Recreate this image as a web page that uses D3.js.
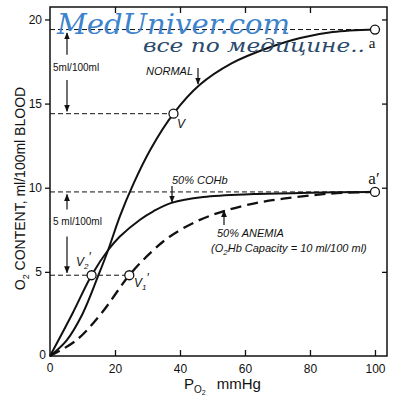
<!DOCTYPE html>
<html>
<head>
<meta charset="utf-8">
<script src="https://cdn.jsdelivr.net/npm/d3@7"></script>
<style>
  body { margin: 0; background: #fff; }
  text { fill: #111; }
  .sans { font-family: "Liberation Sans", Arial, sans-serif; }
  .it { font-family: "Liberation Sans", Arial, sans-serif; font-style: italic; }
  .serif { font-family: "Liberation Serif", "DejaVu Serif", serif; }
  .wm { font-family: "DejaVu Serif", "Liberation Serif", serif; font-style: italic; }
</style>
</head>
<body>
<script>
// curve readings (PO2 mmHg, O2 content ml/100ml)
const normalPO2 = [0, 5, 10, 14.9, 17.9, 21.5, 25.6, 31, 38, 46, 56, 67, 77, 87, 100];
const normalO2 = [0, 0.9, 2.5, 4.8, 6.3, 8.3, 10.2, 12.3, 14.4, 16.1, 17.4, 18.3, 18.9, 19.25, 19.4];
const cohbPO2 = [0, 7, 12.8, 17.9, 21.5, 27.7, 31.8, 37.4, 47.2, 62.6, 80, 100];
const cohbO2 = [0, 2.56, 4.8, 6.3, 7.1, 8.1, 8.6, 9.1, 9.45, 9.62, 9.7, 9.75];
const anemiaPO2 = [0, 8.2, 15.9, 24.4, 31.3, 36.9, 45.1, 53.3, 62.6, 71.8, 82, 90, 100];
const anemiaO2 = [0, 0.95, 2.56, 4.8, 6.2, 7.1, 8.0, 8.6, 9.06, 9.35, 9.58, 9.7, 9.75];

// marked points: a, V, a', V2', V1'
const pointPO2 = [100, 38, 100, 12.8, 24.4];
const pointO2 = [19.4, 14.4, 9.75, 4.8, 4.8];

const xTicks = [0, 20, 40, 60, 80, 100];
const yTicks = [0, 5, 10, 15, 20];

const x = d3.scaleLinear().domain([0, 103.7]).range([50, 387]);
const y = d3.scaleLinear().domain([0, 20.74]).range([356, 7]);

const svg = d3.select("body").append("svg")
  .attr("width", 397)
  .attr("height", 400);

svg.append("rect").attr("width", 397).attr("height", 400).attr("fill", "#fff");

// arrow marker
svg.append("defs").append("marker")
  .attr("id", "ah")
  .attr("viewBox", "0 0 10 10")
  .attr("refX", 9).attr("refY", 5)
  .attr("markerWidth", 6).attr("markerHeight", 6)
  .attr("orient", "auto")
  .append("path").attr("d", "M0,1 L10,5 L0,9 Z").attr("fill", "#111");

// frame
svg.append("rect")
  .attr("x", x(0)).attr("y", y(20.74))
  .attr("width", x(103.7) - x(0)).attr("height", y(0) - y(20.74))
  .attr("fill", "none").attr("stroke", "#111").attr("stroke-width", 1.5);

// axes
svg.append("g")
  .attr("transform", `translate(0,${y(0)})`)
  .call(d3.axisBottom(x).tickValues(xTicks.slice(1)).tickSize(-6).tickPadding(8).tickFormat(d3.format("d")))
  .call(g => g.select(".domain").remove());
svg.append("g")
  .attr("transform", `translate(0,${y(20.74)})`)
  .call(d3.axisTop(x).tickValues(xTicks.slice(1, 5)).tickSize(-6).tickFormat(""))
  .call(g => g.select(".domain").remove());
svg.append("g")
  .attr("transform", `translate(${x(0)},0)`)
  .call(d3.axisLeft(y).tickValues(yTicks.slice(1)).tickSize(5).tickPadding(3))
  .call(g => g.select(".domain").remove());
svg.append("g")
  .attr("transform", `translate(${x(103.7)},0)`)
  .call(d3.axisRight(y).tickValues(yTicks.slice(1)).tickSize(-5).tickFormat(""))
  .call(g => g.select(".domain").remove());
svg.selectAll(".tick line").attr("stroke", "#111").attr("stroke-width", 1.3);
svg.selectAll(".tick text").attr("class", "sans").attr("font-size", 12).attr("fill", "#222");

// zero labels
svg.append("text").attr("class", "sans").attr("x", x(0)).attr("y", y(0) + 16).attr("text-anchor", "middle").attr("font-size", 12).text(xTicks[0]);
svg.append("text").attr("class", "sans").attr("x", x(0) - 4).attr("y", y(0) + 3).attr("text-anchor", "end").attr("font-size", 12).text(yTicks[0]);

// axis titles
const yt = svg.append("text")
  .attr("class", "sans")
  .attr("transform", `translate(25,${y(9.95)}) rotate(-90)`)
  .attr("text-anchor", "middle")
  .attr("font-size", 14);
yt.append("tspan").text("O");
yt.append("tspan").attr("font-size", 9).attr("dy", 4).text("2");
yt.append("tspan").attr("dy", -4).text("  CONTENT, ml/100ml BLOOD");

const xt = svg.append("text")
  .attr("class", "sans")
  .attr("x", 184).attr("y", 389)
  .attr("font-size", 15);
xt.append("tspan").text("P");
xt.append("tspan").attr("font-size", 10).attr("dy", 4).text("O");
xt.append("tspan").attr("font-size", 7).attr("dy", 2).text("2");
xt.append("tspan").attr("dy", -6).attr("dx", 11).text("mmHg");

// dashed reference lines
const refs = [[38, 14.4], [100, 19.4], [100, 9.75], [24.4, 4.8]];
svg.selectAll(".ref").data(refs).enter().append("line")
  .attr("x1", x(0)).attr("x2", d => x(d[0]))
  .attr("y1", d => y(d[1])).attr("y2", d => y(d[1]))
  .attr("stroke", "#111").attr("stroke-width", 1)
  .attr("stroke-dasharray", "5,3");

// curves
const line = d3.line().x(d => x(d[0])).y(d => y(d[1])).curve(d3.curveCatmullRom.alpha(0.5));
svg.append("path").datum(d3.zip(normalPO2, normalO2))
  .attr("d", line).attr("fill", "none").attr("stroke", "#111").attr("stroke-width", 2);
svg.append("path").datum(d3.zip(cohbPO2, cohbO2))
  .attr("d", line).attr("fill", "none").attr("stroke", "#111").attr("stroke-width", 2);
svg.append("path").datum(d3.zip(anemiaPO2, anemiaO2))
  .attr("d", line).attr("fill", "none").attr("stroke", "#111").attr("stroke-width", 2.3)
  .attr("stroke-dasharray", "11,6");

// point circles
svg.selectAll(".pt").data(d3.zip(pointPO2, pointO2)).enter().append("circle")
  .attr("cx", d => x(d[0])).attr("cy", d => y(d[1])).attr("r", 4.5)
  .attr("fill", "#fff").attr("stroke", "#111").attr("stroke-width", 1.3);

// vertical 5 ml arrows
const arrow = (x0, y0, y1) => svg.append("line")
  .attr("x1", x0).attr("x2", x0).attr("y1", y0).attr("y2", y1)
  .attr("stroke", "#111").attr("stroke-width", 1.2).attr("marker-end", "url(#ah)");
arrow(67, y(17.9), y(19.2));
arrow(67, y(16.4), y(14.55));
arrow(67, y(8.7), y(9.6));
arrow(67, y(7.1), y(4.95));
svg.append("text").attr("class", "sans").attr("x", 53).attr("y", y(17.15) + 4).attr("font-size", 10).text("5ml/100ml");
svg.append("text").attr("class", "sans").attr("x", 53).attr("y", y(8.0) + 4).attr("font-size", 10).text("5 ml/100ml");

// curve labels
svg.append("text").attr("class", "it").attr("x", 146).attr("y", 75).attr("font-size", 11).text("NORMAL");
arrow(198, 68, 84);
svg.append("text").attr("class", "it").attr("x", 177).attr("y", 128).attr("font-size", 12).text("V");

svg.append("text").attr("class", "it").attr("x", 172).attr("y", 184).attr("font-size", 11).text("50% COHb");
arrow(172, 186, y(9.15));

svg.append("text").attr("class", "it").attr("x", 217).attr("y", 237).attr("font-size", 11).text("50% ANEMIA");
arrow(224, 225, y(8.65));
const cap = svg.append("text").attr("class", "it").attr("x", 211).attr("y", 252).attr("font-size", 11);
cap.append("tspan").text("(O");
cap.append("tspan").attr("font-size", 8).attr("dy", 3).text("2");
cap.append("tspan").attr("dy", -3).text("Hb  Capacity = 10 ml/100 ml)");

const v2 = svg.append("text").attr("class", "it").attr("x", 76).attr("y", 266).attr("font-size", 12);
v2.append("tspan").text("V");
v2.append("tspan").attr("font-size", 8).attr("dy", 3).text("2");
v2.append("tspan").attr("dy", -8).text("′");
const v1 = svg.append("text").attr("class", "it").attr("x", 134).attr("y", 287).attr("font-size", 12);
v1.append("tspan").text("V");
v1.append("tspan").attr("font-size", 8).attr("dy", 3).text("1");
v1.append("tspan").attr("dy", -8).text("′");

svg.append("text").attr("class", "serif").attr("x", 372).attr("y", 48).attr("text-anchor", "middle")
  .attr("font-size", 15).text("a");
svg.append("text").attr("class", "serif").attr("x", 374).attr("y", 184).attr("text-anchor", "middle")
  .attr("font-size", 17).text("a′");

// site watermark
svg.append("text").attr("class", "wm").attr("x", 57).attr("y", 34)
  .attr("font-size", 27).style("fill", "#3d84cc")
  .attr("textLength", 233).attr("lengthAdjust", "spacingAndGlyphs")
  .text("MedUniver.com");
svg.append("text").attr("class", "wm").attr("x", 143).attr("y", 52)
  .attr("font-size", 19).style("fill", "#2b4a6b")
  .attr("textLength", 222).attr("lengthAdjust", "spacingAndGlyphs")
  .text("все по медицине..");
</script>
</body>
</html>
